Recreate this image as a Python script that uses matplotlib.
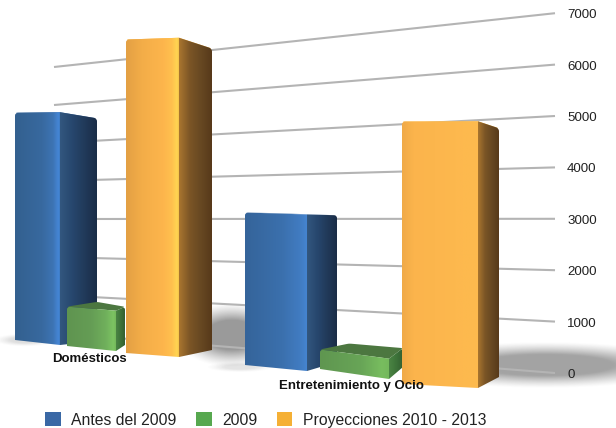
import numpy as np
import matplotlib
matplotlib.use("Agg")
import matplotlib.pyplot as plt
from matplotlib.colors import LinearSegmentedColormap
from matplotlib.patches import PathPatch, Patch
from matplotlib.path import Path

plt.rcParams["font.family"] = ["Liberation Sans", "DejaVu Sans"]

categories = ["Domésticos", "Entretenimiento y Ocio"]
series_names = ["Antes del 2009", "2009", "Proyecciones 2010 - 2013"]
antes = [5050, 3020]
y2009 = [850, 380]
proyecciones = [6550, 4800]
ticks = [0, 1000, 2000, 3000, 4000, 5000, 6000, 7000]

# floor corners of each box in the picture: front left, front right, back right, back left
FLOORS = [
    [[(15, 340), (60, 345), (97, 341), (52, 330)],
     [(67, 346), (116, 351), (125, 345), (97, 339)],
     [(126, 353), (179, 357), (212, 350), (160, 345)]],
    [[(245, 365), (307, 371), (337, 362), (275, 356)],
     [(320, 369), (389, 379), (403, 367), (349, 362)],
     [(402, 384), (478, 388), (499, 377), (425, 373)]],
]
# (position, colour) stops across each front face
FRONT = [
    [[(0, "#33608f"), (0.6, "#38699f"), (0.85, "#3d74b4"), (0.97, "#4586d6"), (1, "#3f7cc4")],
     [(0, "#5f9450"), (0.5, "#659d55"), (0.8, "#70b05c"), (0.95, "#7cc462"), (1, "#74b85c")],
     [(0, "#e3a044"), (0.3, "#f3ad48"), (0.7, "#fdb54c"), (0.87, "#ffc04e"), (0.97, "#ffd552"), (1, "#f5c24a")]],
    [[(0, "#35649a"), (0.6, "#3b70ad"), (0.9, "#417cc2"), (1, "#4584d0")],
     [(0, "#5f9650"), (0.6, "#68a557"), (0.9, "#78bd5f"), (1, "#74b85c")],
     [(0, "#f0aa48"), (0.15, "#fbb44c"), (0.7, "#fdb84e"), (1, "#fdbb4e")]],
]
SIDE = [
    ["#33577f", "#27476e", "#213a5a", "#1a2d47"],
    ["#4b8444", "#427a3d", "#3a6d37", "#335f31"],
    ["#a9762f", "#7b5526", "#674822", "#57391a"],
]
TOP = ["#4a78ad", "#4c7740", "#ffc24f"]
LEGEND = ["#3a68a5", "#57a84f", "#f5b035"]
GRID = "#b4b4b4"

fig = plt.figure(figsize=(6.16, 4.28), dpi=100)
ax = fig.add_axes([0, 0, 1, 1])


def scale_at(floor_y, back=False):
    # pixels per unit shrinks with distance from the camera
    k = 0.045 + 0.00022 * (floor_y - 340)
    return k * 0.975 if back else k


def lift(pt, value, back=False):
    return (pt[0], pt[1] - value * scale_at(pt[1], back))


def rounded(points, r=3.0, corners=()):
    verts, codes = [], []
    n = len(points)
    for i, p in enumerate(points):
        p = np.array(p, float)
        if i in corners:
            a = np.array(points[i - 1], float)
            b = np.array(points[(i + 1) % n], float)
            p1 = p + (a - p) / np.linalg.norm(a - p) * r
            p2 = p + (b - p) / np.linalg.norm(b - p) * r
            verts += [p1, p, p2]
            codes += [Path.LINETO, Path.CURVE3, Path.CURVE3]
        else:
            verts.append(p)
            codes.append(Path.LINETO)
    codes[0] = Path.MOVETO
    verts.append(verts[0])
    codes.append(Path.CLOSEPOLY)
    return Path(verts, codes)


def shade(path, stops, z):
    # horizontal gradient across the face, clipped to its outline
    x0, y0 = path.vertices.min(axis=0)
    x1, y1 = path.vertices.max(axis=0)
    cmap = LinearSegmentedColormap.from_list("face", stops)
    img = ax.imshow(np.linspace(0, 1, 128)[None, :], cmap=cmap, aspect="auto",
                    extent=(x0, x1, y1, y0), zorder=z, interpolation="bilinear")
    clip = PathPatch(path, transform=ax.transData, fc="none", ec="none")
    ax.add_patch(clip)
    img.set_clip_path(clip)


def shadow(cx, cy, rx, ry, strength, z=1.5):
    xs = np.linspace(cx - 2 * rx, cx + 2 * rx, 200)
    ys = np.linspace(cy - 2 * ry, cy + 2 * ry, 100)
    xx, yy = np.meshgrid(xs, ys)
    d = np.sqrt(((xx - cx) / rx) ** 2 + ((yy - cy) / ry) ** 2)
    alpha = np.clip((1.3 - d) / 0.7, 0, 1) ** 1.3 * strength
    rgba = np.zeros(xx.shape + (4,))
    rgba[..., :3] = 0.42
    rgba[..., 3] = alpha
    ax.imshow(rgba, extent=(xs[0], xs[-1], ys[-1], ys[0]), aspect="auto", zorder=z,
              interpolation="bilinear")


def draw_box(floor, value, c, s, z):
    fl, fr, br, bl = floor
    tfl, tfr = lift(fl, value), lift(fr, value)
    tbr, tbl = lift(br, value, True), lift(bl, value, True)
    ax.add_patch(PathPatch(rounded([tfl, tfr, tbr, tbl], 2, (0, 2, 3)), fc=TOP[s], ec="none", zorder=z))
    shade(rounded([fr, br, tbr, tfr], 3, (2,)), SIDE[s], z + 0.1)
    shade(rounded([fl, fr, tfr, tfl], 3, (3,)), FRONT[c][s], z + 0.2)


# grid lines converge towards the left, the right end carries the label
for t in ticks:
    y_left = 333 - t * 0.0380
    y_right = 373 - t * 0.0514
    ax.plot([54, 555], [y_left, y_right], color=GRID, lw=1.5, zorder=2, solid_capstyle="butt")
    ax.text(567, y_right + 2, str(t), fontsize=9.6, color="#222222", ha="left", va="center", zorder=6)

shadow(545, 365, 115, 18, 0.62)
shadow(232, 335, 44, 25, 0.68)
shadow(25, 340, 24, 5, 0.22)
shadow(240, 367, 26, 4, 0.18)

all_values = [antes, y2009, proyecciones]
z = 3.0
for c in range(len(categories)):
    for s in range(len(series_names)):
        draw_box(FLOORS[c][s], all_values[s][c], c, s, z)
        z += 0.5

ax.text(89.5, 358.5, categories[0], fontsize=9.5, fontweight="bold", color="#111111",
        ha="center", va="center", zorder=8)
ax.text(351.5, 385.5, categories[1], fontsize=9.5, fontweight="bold", color="#111111",
        ha="center", va="center", zorder=8)

handles = [Patch(fc=LEGEND[i], ec="none", label=series_names[i]) for i in range(3)]
ax.legend(handles=handles, ncol=3, loc="center left", bbox_to_anchor=(45 / 616, 1 - 420 / 428),
          frameon=False, fontsize=11.3, handlelength=1.0, handleheight=1.0, handletextpad=0.65,
          columnspacing=1.25, borderaxespad=0, borderpad=0, labelcolor="#222222")

ax.set_xlim(0, 616)
ax.set_ylim(428, 0)
ax.axis("off")
fig.savefig("out.png", dpi=100, facecolor="white")
